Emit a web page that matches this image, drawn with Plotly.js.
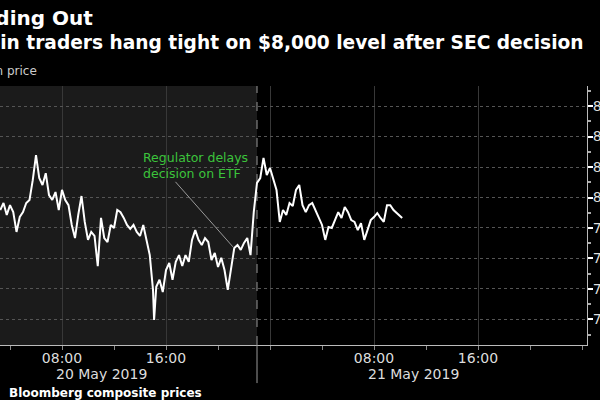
<!DOCTYPE html>
<html>
<head>
<meta charset="utf-8">
<script src="https://cdn.plot.ly/plotly-3.0.1.min.js"></script>
<style>html,body{margin:0;padding:0;background:#000;}#chart{width:600px;height:400px;}</style>
</head>
<body>
<div id="chart"></div>
<script>
var times = [
'2019-05-20 03:15','2019-05-20 03:30','2019-05-20 03:45','2019-05-20 04:00','2019-05-20 04:15','2019-05-20 04:30','2019-05-20 04:45',
'2019-05-20 05:00','2019-05-20 05:15','2019-05-20 05:30','2019-05-20 05:45','2019-05-20 06:00','2019-05-20 06:15','2019-05-20 06:30','2019-05-20 06:45',
'2019-05-20 07:00','2019-05-20 07:15','2019-05-20 07:30','2019-05-20 07:45','2019-05-20 08:00','2019-05-20 08:15','2019-05-20 08:30','2019-05-20 08:45',
'2019-05-20 09:00','2019-05-20 09:15','2019-05-20 09:30','2019-05-20 09:45','2019-05-20 10:00','2019-05-20 10:15','2019-05-20 10:30','2019-05-20 10:45',
'2019-05-20 11:00','2019-05-20 11:15','2019-05-20 11:30','2019-05-20 11:45','2019-05-20 12:00','2019-05-20 12:15','2019-05-20 12:30','2019-05-20 12:45',
'2019-05-20 13:00','2019-05-20 13:15','2019-05-20 13:30','2019-05-20 13:45','2019-05-20 14:00','2019-05-20 14:15','2019-05-20 14:30','2019-05-20 14:45',
'2019-05-20 15:00','2019-05-20 15:05','2019-05-20 15:15','2019-05-20 15:30','2019-05-20 15:45','2019-05-20 16:00','2019-05-20 16:15','2019-05-20 16:30','2019-05-20 16:45',
'2019-05-20 17:00','2019-05-20 17:15','2019-05-20 17:30','2019-05-20 17:45','2019-05-20 18:00','2019-05-20 18:15','2019-05-20 18:30','2019-05-20 18:45',
'2019-05-20 19:00','2019-05-20 19:15','2019-05-20 19:30','2019-05-20 19:45','2019-05-20 20:00','2019-05-20 20:15','2019-05-20 20:30','2019-05-20 20:45',
'2019-05-20 21:00','2019-05-20 21:15','2019-05-20 21:30','2019-05-20 21:45','2019-05-20 22:00','2019-05-20 22:15','2019-05-20 22:30','2019-05-20 22:45',
'2019-05-20 23:00','2019-05-20 23:15','2019-05-20 23:30','2019-05-20 23:45',
'2019-05-21 00:00','2019-05-21 00:15','2019-05-21 00:30','2019-05-21 00:45','2019-05-21 01:00','2019-05-21 01:15','2019-05-21 01:30','2019-05-21 01:45',
'2019-05-21 02:00','2019-05-21 02:15','2019-05-21 02:30','2019-05-21 02:45','2019-05-21 03:00','2019-05-21 03:15','2019-05-21 03:30','2019-05-21 03:45',
'2019-05-21 04:00','2019-05-21 04:15','2019-05-21 04:30','2019-05-21 04:45','2019-05-21 05:00','2019-05-21 05:15','2019-05-21 05:30','2019-05-21 05:45',
'2019-05-21 06:00','2019-05-21 06:15','2019-05-21 06:30','2019-05-21 06:45','2019-05-21 07:00','2019-05-21 07:15','2019-05-21 07:30','2019-05-21 07:45',
'2019-05-21 08:00','2019-05-21 08:15','2019-05-21 08:30','2019-05-21 08:45','2019-05-21 09:00','2019-05-21 09:15','2019-05-21 09:30','2019-05-21 09:45',
'2019-05-21 10:00','2019-05-21 10:10'
];
var prices = [
7959,7982,7943,7975,7952,7887,7936,
7952,7982,7992,8057,8139,8064,8041,8080,
8008,7992,8018,7959,8025,7992,7975,7910,
7867,7943,8005,7920,7861,7887,7874,7775,
7933,7867,7854,7910,7900,7959,7952,7933,
7910,7897,7910,7887,7874,7910,7861,7811,
7697,7598,7707,7730,7690,7762,7785,7730,7789,
7811,7775,7811,7789,7861,7893,7861,7844,
7867,7854,7795,7818,7772,7802,7762,7697,
7762,7834,7844,7828,7851,7867,7811,7952,
8048,8064,8130,8074,
8097,8057,8025,7920,7959,7943,7982,7972,
8025,8041,7975,7952,7975,7982,7959,7933,
7910,7861,7903,7900,7926,7952,7933,7969,
7952,7926,7920,7893,7916,7861,7893,7926,
7936,7949,7933,7920,7975,7975,7959,7949,
7939,7933
];
var yTickVals = [7600,7700,7800,7900,8000,8100,8200,8300];
var xTickVals = ['2019-05-20 08:00','2019-05-20 16:00','2019-05-21 00:00','2019-05-21 08:00','2019-05-21 16:00'];
var xTickText = ['08:00','16:00','','08:00','16:00'];
var dayLabels = ['20 May 2019','21 May 2019'];
var dayLabelPos = ['2019-05-20 11:00','2019-05-21 11:00'];
var decisionTime = '2019-05-20 23:00';
var titleText = 'Holding Out';
var subtitleText = 'Bitcoin traders hang tight on $8,000 level after SEC decision';
var unitText = 'Bitcoin price';
var sourceText = 'Bloomberg composite prices';
var noteText = 'Regulator delays<br>decision on ETF';
var notePoint = {x: '2019-05-20 21:09', y: 7838};

var F = 'DejaVu Sans, sans-serif';
var xStart = '2019-05-20 03:13:50';
var xEnd = '2019-05-22 00:23:00';

var trace = {
  x: times, y: prices, type: 'scatter', mode: 'lines',
  line: {color: '#ffffff', width: 2}, hoverinfo: 'skip'
};

var annotations = [
  {xref:'paper', yref:'paper', x:0, y:1, xanchor:'right', yanchor:'middle', xshift:95, yshift:68,
   text:'<b>'+titleText+'</b>', showarrow:false, font:{family:F, size:20, color:'#ffffff'}},
  {xref:'paper', yref:'paper', x:0, y:1, xanchor:'right', yanchor:'middle', xshift:586, yshift:44,
   text:'<b>'+subtitleText+'</b>', showarrow:false, font:{family:F, size:18.6, color:'#ffffff'}},
  {xref:'paper', yref:'paper', x:0, y:1, xanchor:'right', yanchor:'middle', xshift:39, yshift:15,
   text:unitText, showarrow:false, font:{family:F, size:12, color:'#cccccc'}},
  {xref:'paper', yref:'paper', x:0, y:0, xanchor:'left', yanchor:'middle', xshift:7, yshift:-48,
   text:'<b>'+sourceText+'</b>', showarrow:false, font:{family:F, size:12, color:'#ffffff'}},
  {xref:'paper', yref:'paper', x:0, y:1, xanchor:'left', yanchor:'middle', xshift:141, yshift:-79,
   text:noteText, align:'left', showarrow:false, font:{family:F, size:12.5, color:'#3cc43c'}},
  {xref:'x', yref:'y', x:notePoint.x, y:notePoint.y, ax:-61, ay:-69, text:' ', showarrow:true,
   arrowhead:0, arrowwidth:1, arrowcolor:'#9a9a9a', standoff:0, startstandoff:0}
];
for (var i = 0; i < dayLabels.length; i++) {
  annotations.push({xref:'x', yref:'paper', x:dayLabelPos[i], y:0, yanchor:'middle', yshift:-29,
    text:dayLabels[i], showarrow:false, font:{family:F, size:14, color:'#dddddd'}});
}

var layout = {
  width: 600, height: 400,
  paper_bgcolor: '#000000', plot_bgcolor: '#000000',
  margin: {l:0, r:13, t:86, b:55},
  showlegend: false,
  font: {family: F, color: '#dddddd'},
  xaxis: {
    type: 'date', range: [xStart, xEnd],
    tickmode: 'array', tickvals: xTickVals, ticktext: xTickText,
    ticks: 'outside', ticklen: 4, tickcolor: '#888888', tickwidth: 1,
    ticklabelstandoff: -4,
    minor: {dtick: 4*3600*1000, tick0: '2019-05-20 00:00', ticks: 'outside', ticklen: 4, tickcolor: '#888888', showgrid: false},
    showgrid: true, gridcolor: '#383838', gridwidth: 1,
    showline: true, linecolor: '#bbbbbb', linewidth: 1,
    zeroline: false, tickfont: {family: F, size: 14, color: '#dddddd'}, fixedrange: true
  },
  yaxis: {
    side: 'right', range: [7516, 8366],
    tickmode: 'array', tickvals: yTickVals, tickformat: ',d',
    ticks: 'outside', ticklen: 5, tickwidth: 2, tickcolor: '#ffffff',
    ticklabelstandoff: -3,
    minor: {dtick: 50, tick0: 7500, ticks: 'outside', ticklen: 3, tickcolor: '#aaaaaa', showgrid: false},
    showgrid: true, gridcolor: '#555555', griddash: 'dot', gridwidth: 1,
    showline: true, linecolor: '#bbbbbb', linewidth: 1,
    zeroline: false, tickfont: {family: F, size: 14, color: '#dddddd'}, fixedrange: true
  },
  shapes: [
    {type:'rect', xref:'x', yref:'paper', x0:xStart, x1:decisionTime, y0:0, y1:1,
     fillcolor:'#1b1b1b', line:{width:0}, layer:'below'},
    {type:'line', xref:'x', yref:'paper', x0:decisionTime, x1:decisionTime, y0:0, y1:1,
     line:{color:'#999999', width:1, dash:'dash'}, layer:'below'},
    {type:'line', xref:'x', yref:'paper', x0:decisionTime, x1:decisionTime, y0:0, y1:-0.147,
     line:{color:'#999999', width:1}}
  ],
  annotations: annotations
};

Plotly.newPlot('chart', [trace], layout, {staticPlot: true, displayModeBar: false});
</script>
</body>
</html>
